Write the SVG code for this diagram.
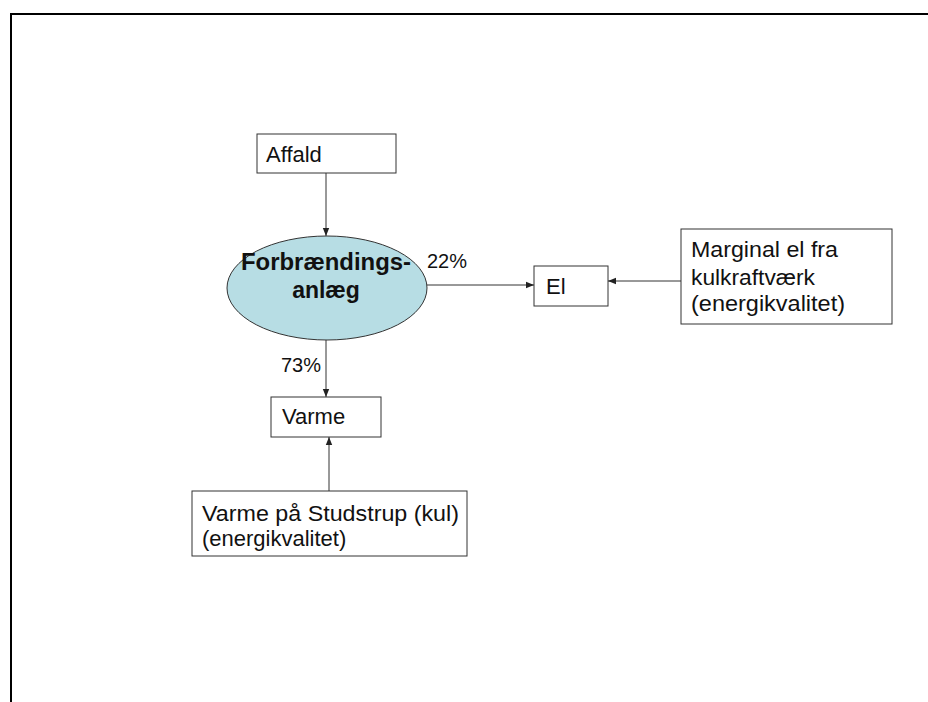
<svg xmlns="http://www.w3.org/2000/svg" width="928" height="702" viewBox="0 0 928 702">
<style>
.box{fill:#fff;stroke:#333;stroke-width:1}
.t{font-family:"Liberation Sans",Arial,sans-serif;font-size:22px;fill:#111}
.p{font-family:"Liberation Sans",Arial,sans-serif;font-size:20px;fill:#111}
.b{font-family:"Liberation Sans",Arial,sans-serif;font-size:23px;font-weight:bold;fill:#111}
.c{stroke:#333;stroke-width:1;fill:none;marker-end:url(#ah)}
</style>
<defs>
<marker id="ah" viewBox="0 0 10 10" refX="10" refY="5" markerWidth="8" markerHeight="8" markerUnits="userSpaceOnUse" orient="auto">
<path d="M0,1 L10,5 L0,9 Z" fill="#222"/>
</marker>
</defs>
<rect width="928" height="702" fill="#fff"/>
<path d="M11,702 V14 H928" fill="none" stroke="#000" stroke-width="2"/>
<g id="connectors">
<line class="c" x1="326" y1="173" x2="326" y2="236"/>
<line class="c" x1="427" y1="285" x2="534" y2="285"/>
<line class="c" x1="681" y1="281" x2="608" y2="281"/>
<line class="c" x1="326" y1="340" x2="326" y2="397"/>
<line class="c" x1="329" y1="491" x2="329" y2="437"/>
</g>
<g id="affald">
<rect class="box" x="257" y="134" width="139" height="39"/>
<text class="t" x="266" y="162">Affald</text>
</g>
<g id="forbraending">
<ellipse cx="327" cy="288" rx="100" ry="52" fill="#b7dde4" stroke="#333" stroke-width="1"/>
<text class="b" x="326" y="270" text-anchor="middle" textLength="170" lengthAdjust="spacingAndGlyphs">Forbrændings-</text>
<text class="b" x="326" y="298" text-anchor="middle">anlæg</text>
</g>
<g id="label22">
<text class="p" x="427" y="268">22%</text>
</g>
<g id="el">
<rect class="box" x="534" y="266" width="74" height="40"/>
<text class="t" x="546" y="294">El</text>
</g>
<g id="marginal">
<rect class="box" x="681" y="229" width="211" height="95"/>
<text class="t" x="691" y="257" textLength="147" lengthAdjust="spacingAndGlyphs">Marginal el fra</text>
<text class="t" x="691" y="285" textLength="124" lengthAdjust="spacingAndGlyphs">kulkraftværk</text>
<text class="t" x="691" y="311" textLength="154" lengthAdjust="spacingAndGlyphs">(energikvalitet)</text>
</g>
<g id="label73">
<text class="p" x="281" y="372">73%</text>
</g>
<g id="varme">
<rect class="box" x="271" y="397" width="110" height="40"/>
<text class="t" x="282" y="424">Varme</text>
</g>
<g id="studstrup">
<rect class="box" x="192" y="491" width="275" height="65"/>
<text class="t" x="202" y="521" textLength="257" lengthAdjust="spacingAndGlyphs">Varme på Studstrup (kul)</text>
<text class="t" x="202" y="546">(energikvalitet)</text>
</g>
</svg>
